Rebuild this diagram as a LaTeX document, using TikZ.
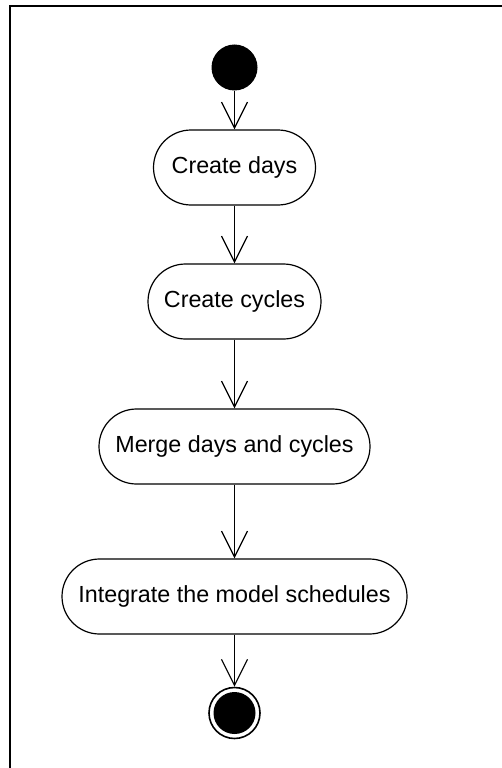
\documentclass[tikz,border=0pt]{standalone}
\usepackage{fontspec}
\setmainfont{Liberation Sans}
\usetikzlibrary{arrows.meta}
\begin{document}
\begin{tikzpicture}[x=1pt,y=1pt,
  act/.style={draw, line width=1.2pt, rectangle, rounded corners=37.5pt,
    minimum height=75pt, inner sep=0pt, font=\fontsize{23.3}{28}\selectfont},
  flow/.style={line width=1.2pt, -{Straight Barb[length=26pt,width=26pt,line width=1.2pt]}},
  startnode/.style={circle, fill=black, minimum size=46pt, inner sep=0pt},
  endnode/.style={circle, draw, line width=1.6pt, minimum size=51pt, inner sep=0pt,
    path picture={\fill (path picture bounding box.center) circle (21pt);}}]
\useasboundingbox (0,0) rectangle (501,-768);
\fill[white] (0,0) rectangle (501,-768);
\draw[line width=2pt] (10,-769) -- (10,-6) -- (502,-6);
\node[startnode] (s) at (234.5,-67.5) {};
\node[act, minimum width=162pt] (a) at (234.5,-167.5) {Create days};
\node[act, minimum width=173pt] (b) at (234.5,-301.5) {Create cycles};
\node[act, minimum width=271pt] (c) at (234.5,-446.5) {Merge days and cycles};
\node[act, minimum width=345pt] (d) at (234.5,-596.5) {Integrate the model schedules};
\node[endnode] (e) at (234.5,-713) {};
\draw[flow] (s) -- (a);
\draw[flow] (a) -- (b);
\draw[flow] (b) -- (c);
\draw[flow] (c) -- (d);
\draw[flow] (d) -- (e);
\end{tikzpicture}
\end{document}
